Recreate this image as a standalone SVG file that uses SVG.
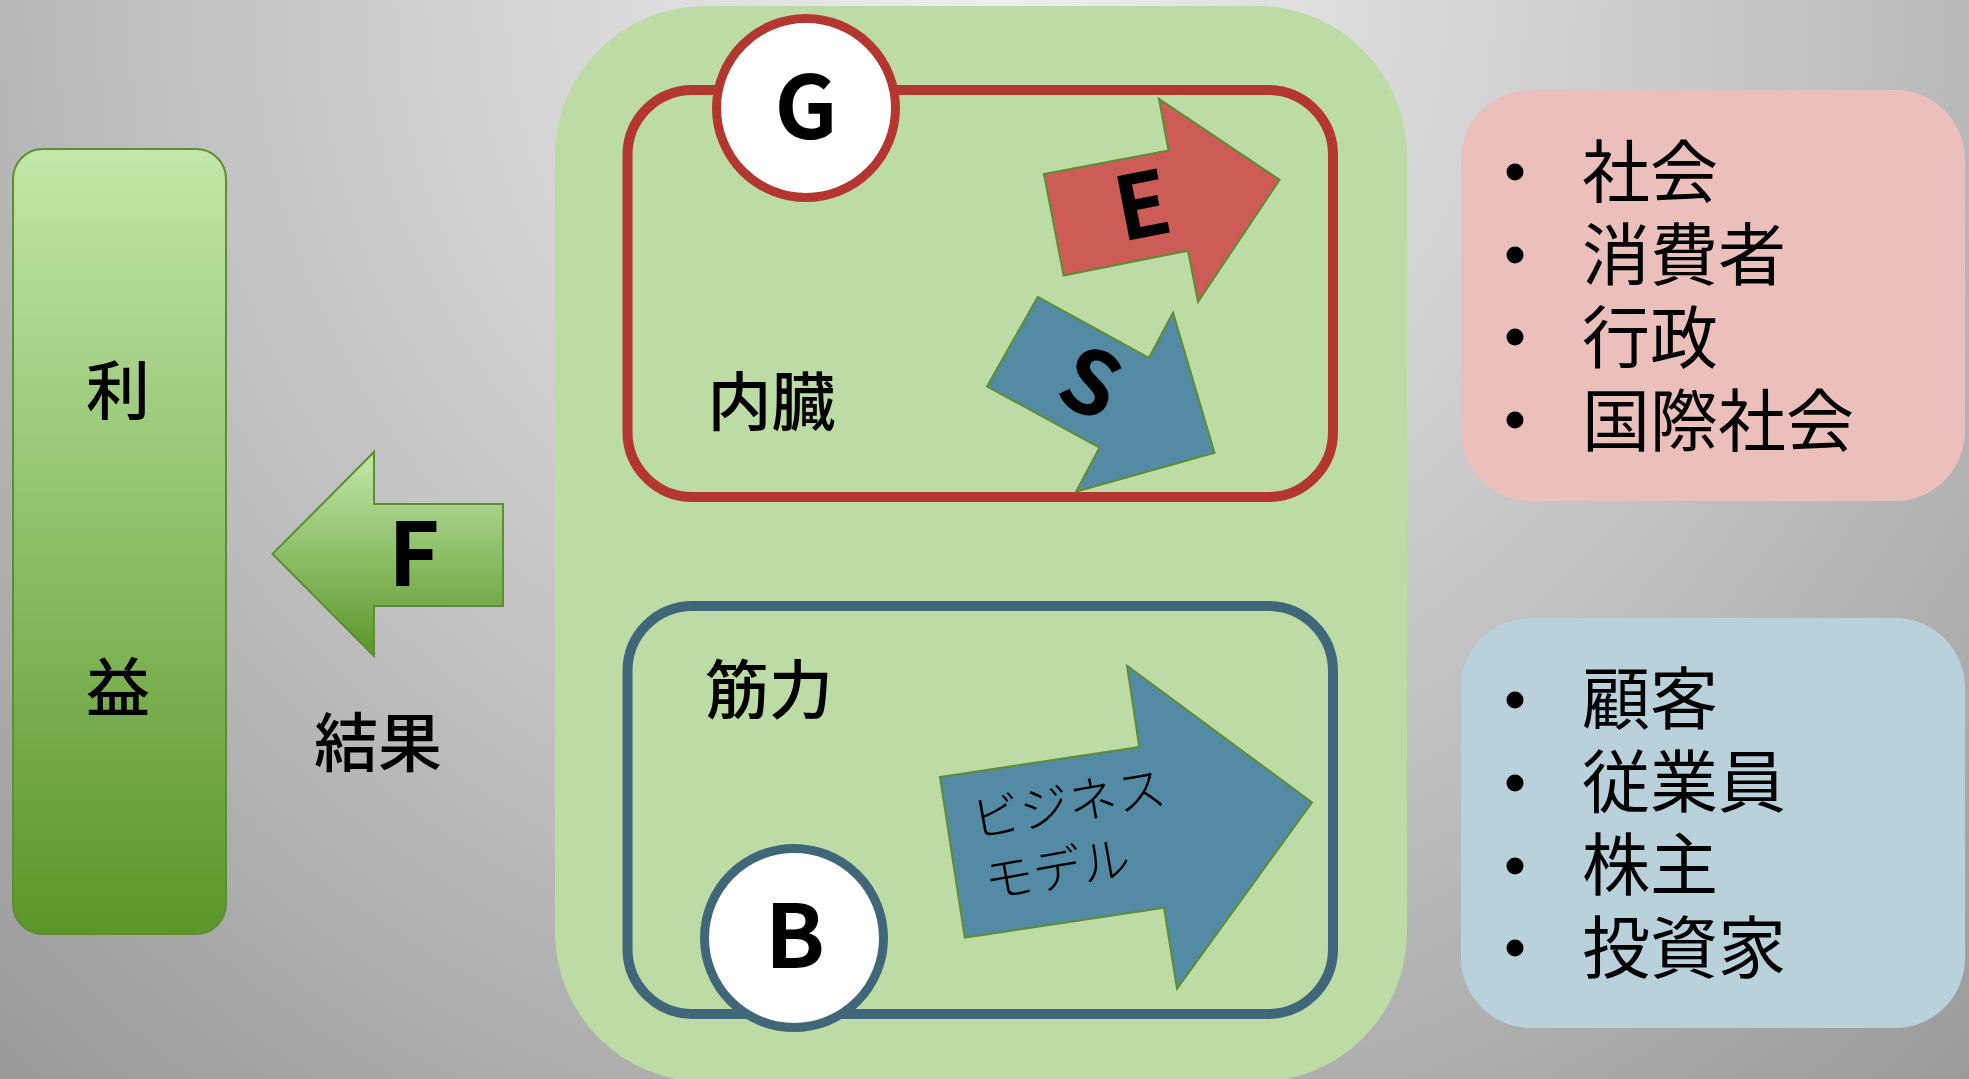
<svg xmlns="http://www.w3.org/2000/svg" width="1969" height="1079" viewBox="0 0 1969 1079">
<defs>
<radialGradient id="bg" gradientUnits="userSpaceOnUse" cx="1000" cy="0" r="1500">
<stop offset="0" stop-color="#efefef"/>
<stop offset="0.6" stop-color="#bdbdbd"/>
<stop offset="1" stop-color="#979797"/>
</radialGradient>
<linearGradient id="grn" x1="0" y1="0" x2="0" y2="1">
<stop offset="0" stop-color="#c2e7a9"/>
<stop offset="1" stop-color="#5a9628"/>
</linearGradient>
<style>
.jp{font-family:"Noto Sans CJK JP","Noto Sans CJK SC",sans-serif;fill:#000}
.lbl{font-size:64px;font-weight:500;text-anchor:middle}
.big{font-size:88px;font-weight:700;text-anchor:middle}
.li{font-size:68px;font-weight:400}
.garrow{stroke:#5e8d34;stroke-width:2;stroke-linejoin:miter}
.bul{fill:#000}
</style>
</defs>
<rect x="0" y="0" width="1969" height="1079" fill="url(#bg)"/>

<g id="profit">
<rect x="13" y="149" width="213" height="785" rx="30" ry="30" fill="url(#grn)" stroke="#5e8d34" stroke-width="2"/>
<text class="jp lbl" x="118" y="414" font-weight="700">利</text>
<text class="jp lbl" x="118" y="711" font-weight="700">益</text>
</g>

<g id="connectors">
<polygon class="garrow" fill="url(#grn)" points="272.5,554 374,452 374,504 503,504 503,606 374,606 374,656"/>
<text class="jp big" x="414" y="586">F</text>
</g>

<g id="result-label">
<text class="jp lbl" x="378" y="766">結果</text>
</g>

<g id="company">
<rect x="555" y="6" width="852" height="1076" rx="150" ry="150" fill="#bddba5"/>
</g>

<g id="naizo">
<rect x="627.5" y="90" width="705.5" height="407" rx="65" ry="65" fill="none" stroke="#b33631" stroke-width="10"/>
<text class="jp lbl" x="771.5" y="425">内臓</text>
</g>

<g id="arrow-e">
<polygon class="garrow" fill="#cd5c56" stroke-width="1.5" points="1044,174 1168.5,150.5 1159,99 1279.6,179.8 1198,302 1188,250.7 1063.6,275.5"/>
<text class="jp big" font-size="84" transform="translate(1143,209) rotate(-11)" x="0" y="28">E</text>
</g>

<g id="arrow-s">
<polygon class="garrow" fill="#548ba4" stroke-width="1.5" points="1037.8,296.8 1148.9,358 1173,312.7 1214.5,452.8 1076,491.7 1099.5,447.7 987,386.4"/>
<text class="jp big" font-size="84" transform="translate(1089,386) rotate(25)" x="0" y="28">S</text>
</g>

<g id="circle-g">
<circle cx="806" cy="108" r="89.5" fill="#ffffff" stroke="#b33631" stroke-width="9"/>
<text class="jp big" x="806" y="139">G</text>
</g>

<g id="kinryoku">
<rect x="627.5" y="606" width="705.5" height="408" rx="65" ry="65" fill="none" stroke="#3f6779" stroke-width="10"/>
<text class="jp lbl" x="769" y="713">筋力</text>
</g>

<g id="arrow-bm">
<polygon class="garrow" fill="#548ba4" stroke-width="1.5" points="940,777 1139.3,747 1127,665.7 1312,802.4 1177,988.7 1164,907.8 964.8,937.7"/>
<g transform="translate(975,838) rotate(-10)">
<text class="jp" font-size="49" font-weight="300" x="0" y="0">ビジネス</text>
<text class="jp" font-size="49" font-weight="300" x="2" y="63">モデル</text>
</g>
</g>

<g id="circle-b">
<circle cx="794" cy="938" r="89.5" fill="#ffffff" stroke="#3f6779" stroke-width="9"/>
<text class="jp big" x="795" y="968">B</text>
</g>

<g id="stakeholders-society">
<rect x="1461" y="90" width="504" height="411" rx="70" ry="70" fill="#ebbfbc"/>
<circle class="bul" cx="1515" cy="172" r="8.5"/>
<circle class="bul" cx="1515" cy="255" r="8.5"/>
<circle class="bul" cx="1515" cy="337" r="8.5"/>
<circle class="bul" cx="1515" cy="420" r="8.5"/>
<text class="jp li" x="1582" y="197">社会</text>
<text class="jp li" x="1582" y="280">消費者</text>
<text class="jp li" x="1582" y="363">行政</text>
<text class="jp li" x="1582" y="446">国際社会</text>
</g>

<g id="stakeholders-business">
<rect x="1461" y="618" width="504" height="410" rx="70" ry="70" fill="#b9d1da"/>
<circle class="bul" cx="1515" cy="700" r="8.5"/>
<circle class="bul" cx="1515" cy="783" r="8.5"/>
<circle class="bul" cx="1515" cy="866" r="8.5"/>
<circle class="bul" cx="1515" cy="948" r="8.5"/>
<text class="jp li" x="1582" y="724">顧客</text>
<text class="jp li" x="1582" y="807">従業員</text>
<text class="jp li" x="1582" y="890">株主</text>
<text class="jp li" x="1582" y="973">投資家</text>
</g>
</svg>
